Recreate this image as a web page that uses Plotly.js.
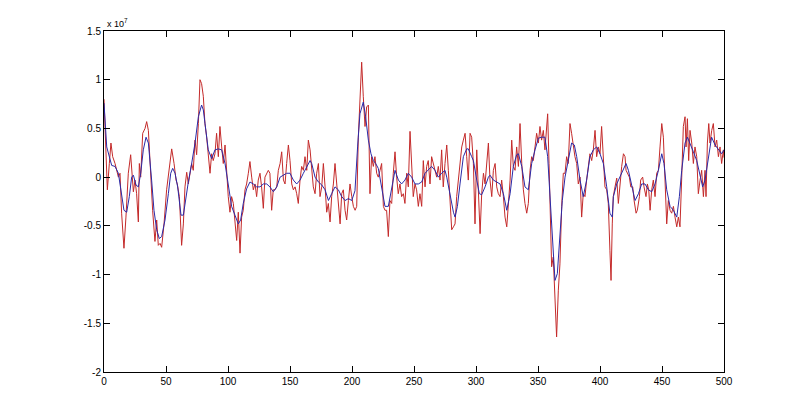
<!DOCTYPE html>
<html>
<head>
<meta charset="utf-8">
<script src="https://cdn.plot.ly/plotly-3.0.1.min.js"></script>
<style>
html,body{margin:0;padding:0;background:#fff;}
#chart{width:800px;height:418px;}
</style>
</head>
<body>
<div id="chart"></div>
<script>
// values in units of 1e7
const redX = [0,2.7,4.3,5.6,7.0,8.9,11.6,12.9,14.2,16.1,17.7,19.6,21.5,22.8,23.7,25.0,26.3,27.7,28.5,29.6,31.2,33.1,34.4,35.8,37.1,39.2,41.1,42.5,43.8,45.2,46.5,48.4,50.5,52.4,54.6,56.5,58.1,59.1,60.8,62.6,64.0,65.3,66.7,68.0,
70.7,72.0,73.4,74.7,76.1,77.4,78.7,80.1,81.4,82.8,84.1,85.5,86.8,88.1,89.5,90.8,92.2,93.5,94.9,96.2,97.6,98.9,100.2,101.6,102.9,104.3,105.6,107.0,108.3,109.7,111.0,112.3,113.7,115.0,116.4,117.7,119.1,120.4,121.8,123.1,124.4,125.8,127.1,128.5,129.8,131.2,132.5,133.8,135.2,136.5,
137.9,139.3,140.6,142.0,143.3,144.7,146.0,147.3,148.7,150.0,151.4,152.7,154.1,155.4,156.7,158.1,159.4,160.8,162.1,163.5,164.8,166.2,167.5,168.8,170.2,171.5,172.9,174.2,175.6,176.9,178.3,179.6,180.9,182.3,183.6,185.0,186.3,187.7,189.0,190.4,191.7,193.0,194.4,195.7,197.1,198.4,199.8,201.1,202.5,203.8,205.1,
206.4,207.8,209.1,210.5,211.8,213.2,214.5,215.8,217.2,218.5,219.9,221.2,222.6,223.9,225.3,226.6,227.9,229.3,230.6,232.0,233.3,234.7,236.0,237.3,238.7,240.0,241.4,242.7,244.1,245.4,246.8,248.1,249.4,250.8,252.1,253.5,254.8,256.2,257.5,258.9,260.2,261.5,262.9,264.2,265.6,266.9,268.3,269.6,271.0,272.3,273.6,275.0,
276.4,277.7,279.1,280.4,281.8,283.1,284.4,285.8,287.1,288.5,289.8,291.2,292.5,293.8,295.2,296.5,297.9,299.2,300.6,301.9,303.3,304.6,306.0,307.3,308.6,310.0,311.3,312.7,314.0,315.4,316.7,318.0,319.4,320.7,322.1,323.4,324.8,326.1,327.5,328.8,330.1,331.5,332.8,334.2,335.5,336.9,338.2,339.5,340.9,342.2,343.6,
344.9,346.2,347.6,348.9,350.3,351.6,352.9,354.3,355.6,357.0,357.8,358.9,360.2,361.0,362.3,363.7,365.0,366.4,367.7,369.1,370.4,371.8,373.1,374.4,375.8,377.1,378.5,379.8,381.2,382.5,383.9,385.2,386.5,387.9,389.2,390.6,391.9,393.3,394.6,396.0,397.3,398.6,400.0,401.3,402.7,404.0,405.4,406.7,408.0,408.9,409.9,410.7,412.1,
413.5,414.8,416.2,417.5,418.9,420.2,421.0,422.1,423.7,424.8,426.4,427.5,429.1,430.1,431.8,432.8,434.4,435.5,437.1,438.2,439.3,440.4,441.7,443.0,444.4,445.7,447.1,448.4,449.8,451.1,452.5,453.8,455.1,456.5,457.8,459.2,460.5,461.9,463.2,464.5,465.9,467.2,468.6,469.4,470.5,471.5,472.6,474.0,475.3,476.6,478.0,
479.3,480.7,482.0,483.4,484.7,485.5,486.6,487.7,488.7,490.1,491.4,492.8,494.1,495.5,496.8,498.1,499.5,500];
const redValuesE7 = [0.80,-0.13,0.14,0.35,0.21,0.14,0,0.04,-0.37,-0.73,-0.41,0.04,0.23,0.04,-0.15,-0.03,-0.17,-0.46,0.14,0,0.45,0.50,0.57,0.48,0.14,-0.34,-0.66,-0.44,-0.70,-0.68,-0.72,-0.48,-0.13,0.07,0.29,0.14,-0.03,-0.07,-0.20,-0.70,-0.48,-0.10,0.05,-0.07,
0.14,0.07,0.38,0.23,0.55,1.00,0.96,0.83,0.55,0.41,0.21,0.04,0.24,0.17,0.24,0.45,0.21,0.52,0.31,0.14,0.33,0.04,-0.20,-0.36,-0.20,-0.27,-0.48,-0.65,-0.36,-0.78,-0.41,-0.34,-0.13,-0.07,0.04,0.16,0,-0.13,-0.07,-0.20,-0.03,0.04,-0.10,-0.32,0,0.04,0.07,0.04,-0.34,-0.13,
-0.13,-0.10,0.07,0.14,0.26,-0.03,-0.07,0.14,0.33,0.17,-0.07,-0.13,-0.10,-0.17,-0.27,-0.03,0.11,0.07,0.21,0.07,0.38,0.28,0.07,-0.10,-0.17,0.04,0.14,-0.20,-0.10,0.14,-0.10,-0.36,-0.27,-0.46,-0.20,-0.07,0.14,-0.10,-0.27,-0.48,-0.17,-0.13,-0.34,-0.44,-0.24,-0.07,-0.20,-0.30,-0.34,-0.30,0.41,
0.83,1.18,0.83,0.52,0.72,0.74,-0.17,0.21,0.11,0.21,0.04,0,0.07,0.14,-0.30,-0.34,-0.34,-0.61,-0.24,-0.27,0.04,0.26,0,-0.17,-0.07,-0.20,-0.17,-0.27,0.04,-0.10,0.47,0.07,-0.20,-0.07,-0.13,-0.30,-0.17,-0.30,0.17,-0.10,0.11,0.17,-0.07,0.21,0.14,0.07,0,0.11,-0.03,0.28,-0.10,0.14,
0.33,0.07,-0.27,-0.54,-0.51,-0.48,-0.20,-0.03,0.07,0.31,0.38,0.45,0.21,-0.03,0.45,0.41,0.14,-0.48,0.28,-0.20,-0.58,-0.17,0.04,-0.07,0.14,0.35,-0.03,-0.20,0.07,0.14,-0.10,-0.17,-0.20,-0.03,-0.20,-0.41,-0.51,-0.30,-0.03,0.38,0.11,0.07,0.31,0.11,0.55,0.14,-0.13,-0.27,-0.37,-0.27,0.07,
0.21,0.17,0.31,0.45,0.35,0.52,0.38,0.48,0.28,0.52,0.65,0.14,-0.54,-0.92,-0.82,-1.23,-1.64,-1.16,-0.89,-0.30,0.04,0.04,0.21,0.14,0.55,0.45,0.31,0.21,0.14,-0.07,0,-0.41,-0.17,-0.20,-0.03,0.14,0.24,0.17,0.28,0.48,0.21,0.31,0.24,0.52,0.21,-0.10,-0.13,-0.27,-0.75,-1.06,-0.48,-0.20,-0.10,
-0.01,-0.27,-0.03,0.11,0.24,0.21,0.07,0.04,0,-0.10,-0.10,-0.24,-0.37,-0.34,-0.20,-0.03,0,-0.10,-0.20,-0.07,-0.13,-0.34,-0.13,-0.03,-0.20,0.04,0.07,0.31,0.55,0.41,-0.03,-0.48,-0.24,-0.34,-0.37,-0.30,-0.41,-0.51,-0.41,-0.51,0,0.52,0.62,0.31,0.60,0.17,0.48,0.35,0.14,0.31,0.21,
-0.17,-0.03,0.07,-0.20,0.07,-0.20,0.35,0.55,0.35,0.48,0.55,0.31,0.38,0.21,0.31,0.14,0.28,0.20];

const blueX = [0,2.2,6.2,8.9,11.6,14.2,16.1,18.3,20.4,22.3,23.7,25.8,27.7,29.6,31.7,33.9,35.8,38.4,40.3,42.5,44.6,46.5,49.2,51.9,53.8,55.4,57.3,59.4,62.1,64.0,66.1,68.0,
70.7,73.4,76.1,78.7,80.1,82.0,84.1,86.8,89.5,92.2,94.9,97.6,100.2,102.9,105.6,108.3,110.2,112.3,115.0,117.7,120.4,123.1,125.8,128.5,131.2,133.8,
136.6,139.3,142.0,144.7,147.3,150.0,152.7,155.4,158.1,160.8,163.5,166.2,167.5,170.2,172.9,175.6,178.3,181.0,183.6,186.3,189.0,191.7,194.4,197.1,199.8,202.4,
204.5,206.4,209.1,211.0,213.2,215.3,217.2,219.1,221.2,223.9,226.6,229.3,232.0,234.7,237.4,240.0,242.7,245.4,248.1,250.8,253.5,256.2,258.9,261.5,264.2,266.9,269.6,272.3,
275.0,276.4,279.1,281.8,283.1,285.0,287.1,289.8,292.5,293.8,296.5,297.9,300.6,302.7,304.6,307.3,310.0,311.3,314.0,316.7,319.4,322.1,324.8,327.5,330.1,332.8,334.2,336.9,339.5,
342.2,344.9,347.6,350.3,353.0,355.6,357.8,359.7,361.5,363.7,365.6,367.7,369.6,371.8,374.4,377.1,379.3,381.2,383.9,386.5,389.2,391.9,394.6,397.3,400.0,402.7,405.4,408.0,409.9,
410.8,413.5,416.2,418.9,421.0,422.9,425.6,428.3,431.0,433.6,436.3,439.0,441.7,444.4,447.1,449.8,451.6,453.8,456.5,459.2,461.9,464.0,465.9,468.6,470.5,472.6,475.3,478.0,
480.1,482.8,484.7,487.4,490.0,492.8,495.4,498.1,500];
const blueValuesE7 = [0.76,0.31,0.12,0.11,0.04,-0.17,-0.34,-0.36,-0.20,0,0.02,-0.08,-0.10,0.04,0.28,0.41,0.35,-0.03,-0.34,-0.54,-0.63,-0.61,-0.44,-0.17,0.04,0.09,0.04,-0.10,-0.39,-0.39,-0.20,-0.05,
0.14,0.35,0.62,0.74,0.69,0.48,0.28,0.19,0.28,0.29,0.28,0.14,-0.10,-0.30,-0.39,-0.48,-0.44,-0.27,-0.12,-0.05,-0.07,-0.10,-0.10,-0.07,-0.07,-0.10,
-0.15,-0.10,0,0.02,0.04,0.04,-0.03,-0.07,-0.03,0.04,0.11,0.17,0.14,0,-0.05,-0.08,-0.13,-0.24,-0.17,-0.10,-0.13,-0.20,-0.24,-0.22,-0.24,-0.14,
0.31,0.65,0.77,0.62,0.38,0.24,0.17,0.14,0.09,-0.10,-0.30,-0.30,-0.10,0.07,-0.03,-0.07,-0.03,0.04,0,-0.07,-0.07,-0.05,0.04,0.07,0.11,0.07,0,0.04,
0.07,0,-0.20,-0.36,-0.41,-0.30,-0.07,0.21,0.29,0.29,0.21,0.17,-0.03,-0.17,-0.18,-0.10,0,0.02,-0.03,-0.05,-0.07,-0.17,-0.34,-0.17,0.11,0.23,0.24,0.11,-0.10,
-0.13,0.14,0.28,0.40,0.41,0.41,0.21,-0.20,-0.68,-1.06,-0.99,-0.61,-0.24,0,0.17,0.35,0.33,0.21,-0.03,-0.20,-0.03,0.21,0.28,0.31,0.24,0.14,-0.10,-0.37,-0.41,
-0.20,-0.07,0,0.07,0.14,0.07,-0.07,-0.24,-0.17,-0.07,-0.07,-0.13,-0.15,-0.07,0.07,0.24,0.14,-0.13,-0.30,-0.34,-0.41,-0.20,0.07,0.35,0.41,0.35,0.26,0.17,
0.04,-0.10,-0.03,0.21,0.41,0.33,0.28,0.24,0.28];

const xTicks = [0,50,100,150,200,250,300,350,400,450,500];
const yTickVals = [-2,-1.5,-1,-0.5,0,0.5,1,1.5];
const yTickText = ["-2","-1.5","-1","-0.5","0","0.5","1","1.5"];

const axisFont = {family: "Liberation Sans, Arial, sans-serif", size: 10, color: "#000"};

const traces = [
  {x: redX, y: redValuesE7, type: "scatter", mode: "lines",
   line: {color: "#c42a2a", width: 1}, hoverinfo: "skip", showlegend: false},
  {x: blueX, y: blueValuesE7, type: "scatter", mode: "lines",
   line: {color: "#2a2aa8", width: 1}, hoverinfo: "skip", showlegend: false}
];

const layout = {
  width: 800, height: 418,
  margin: {l: 104, r: 76, t: 31, b: 46, pad: 0},
  paper_bgcolor: "#fff", plot_bgcolor: "#fff",
  showlegend: false,
  font: axisFont,
  xaxis: {
    range: [0, 500], tickvals: xTicks, ticktext: xTicks.map(String),
    ticks: "inside", ticklen: 6, tickcolor: "#000", tickwidth: 1,
    showline: true, linecolor: "#000", linewidth: 1, mirror: "ticks",
    showgrid: false, zeroline: false, tickfont: axisFont
  },
  yaxis: {
    range: [-2, 1.5], tickvals: yTickVals, ticktext: yTickText,
    ticks: "inside", ticklen: 6, tickcolor: "#000", tickwidth: 1,
    showline: true, linecolor: "#000", linewidth: 1, mirror: "ticks",
    showgrid: false, zeroline: false, tickfont: axisFont
  },
  annotations: [{
    xref: "paper", yref: "paper", x: 0, y: 1, xanchor: "left", yanchor: "bottom",
    text: "x 10<sup>7</sup>", showarrow: false, font: {family: "Liberation Sans, Arial, sans-serif", size: 9, color: "#000"},
    xshift: 1, yshift: 0
  }]
};

Plotly.newPlot("chart", traces, layout, {staticPlot: true, displayModeBar: false});
</script>
</body>
</html>
